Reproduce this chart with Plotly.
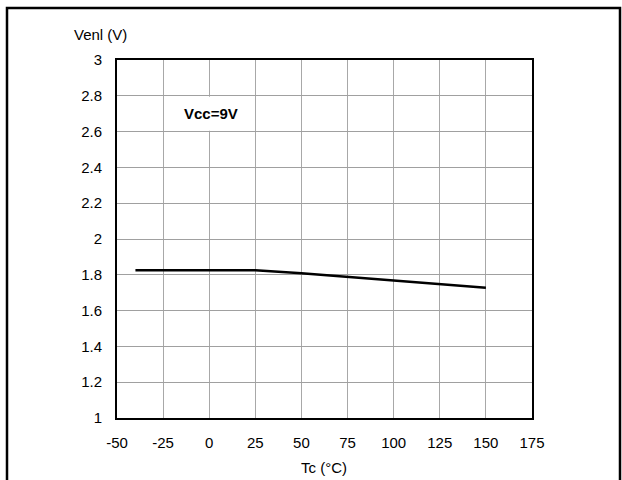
import plotly.graph_objects as go

# Data
tc = [-40, 25, 50, 75, 100, 125, 150]
venl = [1.826, 1.826, 1.808, 1.787, 1.766, 1.747, 1.728]
x_ticks = [-50, -25, 0, 25, 50, 75, 100, 125, 150, 175]
x_tick_labels = ["-50", "-25", "0", "25", "50", "75", "100", "125", "150", "175"]
y_ticks = [1, 1.2, 1.4, 1.6, 1.8, 2, 2.2, 2.4, 2.6, 2.8, 3]
y_tick_labels = ["1", "1.2", "1.4", "1.6", "1.8", "2", "2.2", "2.4", "2.6", "2.8", "3"]

W, H = 622, 480
L, R, T, B = 117, 90, 60, 62
pw, ph = W - L - R, H - T - B

def px(x):
    return (x - L) / pw

def py(y):
    return (H - B - y) / ph

FONT = "Liberation Sans, Arial, sans-serif"

fig = go.Figure()
fig.add_trace(go.Scatter(x=tc, y=venl, mode="lines",
                         line=dict(color="black", width=2.5),
                         showlegend=False, hoverinfo="skip"))

fig.update_layout(
    width=W, height=H,
    margin=dict(l=L, r=R, t=T, b=B),
    paper_bgcolor="white", plot_bgcolor="white",
    font=dict(family=FONT, size=15, color="black"),
    xaxis=dict(range=[-50, 175], tickvals=x_ticks, ticktext=x_tick_labels,
               showgrid=True, gridcolor="#a8a8a8", gridwidth=1, zeroline=False,
               showline=True, linecolor="black", linewidth=2, mirror=True,
               ticks="", ticklabelstandoff=10, fixedrange=True),
    yaxis=dict(range=[1, 3], tickvals=y_ticks, ticktext=y_tick_labels,
               showgrid=True, gridcolor="#a0a0a0", gridwidth=1.2,
               zeroline=False, showline=True, linecolor="black", linewidth=2,
               mirror=True, ticks="", ticklabelstandoff=10, fixedrange=True),
    shapes=[
        # white box behind label
        dict(type="rect", xref="x", yref="y", x0=-24, x1=24.2, y0=2.605, y1=2.795,
             fillcolor="white", line=dict(width=0), layer="between"),
        # outer frame
        dict(type="rect", xref="paper", yref="paper",
             x0=px(7), x1=px(620), y0=py(490), y1=py(8),
             line=dict(color="black", width=2.5), fillcolor="rgba(0,0,0,0)"),
    ],
    annotations=[
        dict(text="Vcc=9V", x=1, y=2.7, xref="x", yref="y", showarrow=False,
             font=dict(family=FONT, size=15, color="black", weight="bold")),
        dict(text="Venl (V)", x=px(72), y=py(34), xref="paper", yref="paper",
             xanchor="left", yanchor="middle", showarrow=False,
             font=dict(family=FONT, size=15)),
        dict(text="Tc (°C)", x=px(324), y=py(468), xref="paper", yref="paper",
             xanchor="center", yanchor="middle", showarrow=False,
             font=dict(family=FONT, size=15)),
    ],
)

fig.write_html("out.html")
